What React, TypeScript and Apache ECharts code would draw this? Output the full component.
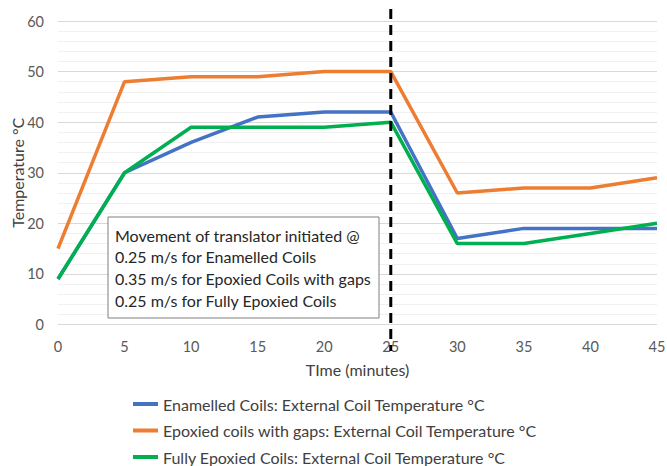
import React, { useEffect, useRef } from "react";
import * as echarts from "echarts";

const timeMinutes = [0, 5, 10, 15, 20, 25, 30, 35, 40, 45];
const enamelled = [9, 30, 36, 41, 42, 42, 17, 19, 19, 19];
const epoxiedGaps = [15, 48, 49, 49, 50, 50, 26, 27, 27, 29];
const fullyEpoxied = [9, 30, 39, 39, 39, 40, 16, 16, 18, 20];
const seriesNames = [
  "Enamelled Coils: External Coil Temperature °C",
  "Epoxied coils with gaps: External Coil Temperature °C",
  "Fully Epoxied Coils: External Coil Temperature °C",
];
const noteLines = [
  "Movement of translator initiated @",
  "0.25 m/s for Enamelled Coils",
  "0.35 m/s for Epoxied Coils with gaps",
  "0.25 m/s for Fully Epoxied Coils",
];
const markerTime = 25;

const FONT = "Lato";

export default function App() {
  const ref = useRef<HTMLDivElement>(null);
  useEffect(() => {
    if (!ref.current) return;
    const chart = echarts.init(ref.current, undefined, { renderer: "svg" });
    const pair = (vals: number[]) => timeMinutes.map((t, i) => [t, vals[i]]);
    const colors = ["#4472C4", "#ED7D31", "#00B050"];
    const datas = [enamelled, epoxiedGaps, fullyEpoxied];
    chart.setOption({
      animation: false,
      grid: { left: 58, right: 10, top: 21, bottom: 141.5, containLabel: false, outerBoundsMode: "none" },
      xAxis: {
        type: "value",
        min: 0,
        max: 45,
        interval: 5,
        name: "TIme (minutes)",
        nameLocation: "middle",
        nameGap: 37,
        nameTextStyle: { fontFamily: FONT, fontSize: 16, color: "#404040" },
        axisLine: { show: false },
        axisTick: { show: false },
        splitLine: { show: false },
        axisLabel: { fontFamily: FONT, fontSize: 14.5, color: "#595959", margin: 14 },
      },
      yAxis: {
        type: "value",
        min: 0,
        max: 60,
        interval: 10,
        name: "Temperature °C",
        nameLocation: "middle",
        nameRotate: 90,
        nameGap: 33,
        nameMoveOverlap: false,
        nameTextStyle: { fontFamily: FONT, fontSize: 16, color: "#404040" },
        axisLine: { show: false },
        axisTick: { show: false },
        axisLabel: { fontFamily: FONT, fontSize: 14.5, color: "#595959", margin: 14 },
        splitLine: { lineStyle: { color: "#d9d9d9", width: 1 } },
        minorTick: { show: false, splitNumber: 5 },
        minorSplitLine: { show: true, lineStyle: { color: "#f0f0f0", width: 1 } },
      },
      legend: {
        orient: "vertical",
        left: 133,
        top: 396,
        padding: 0,
        icon: "rect",
        itemWidth: 25,
        itemHeight: 4,
        itemGap: 10.5,
        textStyle: { fontFamily: FONT, fontSize: 16, color: "#404040", lineHeight: 16 },
        data: seriesNames,
      },
      series: datas.map((d, i) => ({
        name: seriesNames[i],
        type: "line",
        data: pair(d),
        symbol: "none",
        color: colors[i],
        lineStyle: { color: colors[i], width: 3.5 },
        z: i === 2 ? 3 : 2,
      })),
    });
    const xPix = chart.convertToPixel({ xAxisIndex: 0 }, markerTime) as number;
    const boxX = 108;
    const boxY = 217;
    chart.setOption({
      graphic: [
        {
          type: "line",
          z: 100,
          shape: { x1: xPix, y1: 9, x2: xPix, y2: 351 },
          style: { stroke: "#000000", lineWidth: 3, lineDash: [10, 6] },
        },
        {
          type: "group",
          z: 90,
          children: [
            {
              type: "rect",
              shape: { x: boxX, y: boxY, width: 271, height: 101 },
              style: { fill: "#ffffff", stroke: "#7f7f7f", lineWidth: 1 },
            },
            ...noteLines.map((t, i) => ({
              type: "text",
              x: boxX + 7,
              y: boxY + 18 + i * 21.7,
              style: {
                text: t,
                fontFamily: FONT,
                fontSize: 16,
                fill: "#262626",
                verticalAlign: "middle",
              },
            })),
          ],
        },
      ],
    });
    return () => chart.dispose();
  }, []);
  return <div ref={ref} style={{ width: 667, height: 466, position: "absolute", left: 0, top: 0 }} />;
}
